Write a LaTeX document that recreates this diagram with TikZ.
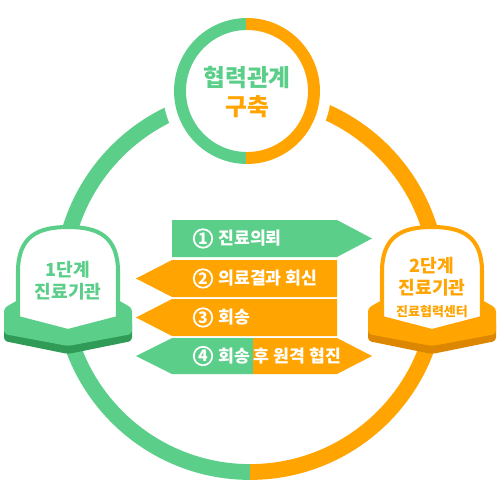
\documentclass[tikz,border=0pt]{standalone}
\usepackage{fontspec}
\setmainfont{Noto Sans CJK KR}
\usepackage{tikz}
\usetikzlibrary{positioning}
\definecolor{mGreen}{HTML}{5BCF89}
\definecolor{mGreenDk}{HTML}{2F9B57}
\definecolor{mOrange}{HTML}{FFA400}
\definecolor{mOrangeDk}{HTML}{DD8700}
\tikzset{
  bigring/.style={line width=9pt},
  topring/.style={line width=6.8pt},
  bandtext/.style={text=white, font=\bfseries\fontsize{9.8}{10}\selectfont, anchor=west, inner sep=0pt},
  numcirc/.style={circle, draw=white, line width=1pt, minimum size=0.37cm,
    inner sep=0pt, text=white, font=\bfseries\fontsize{9}{9}\selectfont},
  belltext/.style={font=\bfseries\fontsize{10.3}{12.5}\selectfont, align=center, inner sep=0pt},
}
% bell: x centre, colour, dark colour
\newcommand{\bellshape}[3]{%
  \begin{scope}[shift={(#1,0)}]
    \fill[#3, rounded corners=2pt] (-64,320) -- (-64,341) -- (0,354) -- (64,341) -- (64,320) -- cycle;
    \fill[#2, rounded corners=2pt] (-64,308) -- (-50,300) -- (50,300) -- (64,308)
      -- (64,334) -- (0,346) -- (-64,334) -- cycle;
    \draw[#2, line width=2.3pt, fill=white] (-50,318) -- (-50,272)
      .. controls (-50,236) and (-30,227) .. (0,227)
      .. controls (30,227) and (50,236) .. (50,272) -- (50,318) -- (0,331) -- cycle;
  \end{scope}
}
\begin{document}
\begin{tikzpicture}[x=0.02cm, y=-0.02cm]
  \useasboundingbox (0,0) rectangle (500,500);
  % big ring
  \begin{scope}
    \clip (0,0) rectangle (250,500);
    \draw[bigring, mGreen] (250,284) circle (188);
  \end{scope}
  \begin{scope}
    \clip (250,0) rectangle (500,500);
    \draw[bigring, mOrange] (250,284) circle (188);
  \end{scope}
  % top circle
  \fill[white] (247,91) circle (84);
  \begin{scope}
    \clip (0,0) rectangle (246,200);
    \draw[topring, mGreen] (247,91) circle (67);
  \end{scope}
  \begin{scope}
    \clip (246,0) rectangle (500,200);
    \draw[topring, mOrange] (247,91) circle (67);
  \end{scope}
  \node[text=mGreen, font=\bfseries\fontsize{13.5}{14}\selectfont] (coop) at (247,78) {협력관계};
  \node[text=mOrange, font=\bfseries\fontsize{13.5}{14}\selectfont] (build) at (247,107) {구축};
  % bells
  \bellshape{68}{mGreen}{mGreenDk}
  \bellshape{432}{mOrange}{mOrangeDk}
  \node[belltext, text=mGreen] (first) at (68,281) {1단계\\진료기관};
  \node[belltext, text=mOrange] (second) at (432,277) {2단계\\진료기관};
  \node[text=mOrange, font=\bfseries\fontsize{7.4}{8}\selectfont] (center) at (432,312) {진료협력센터};
  % bands
  \fill[mGreen] (172,220) -- (337,220) -- (372,238.5) -- (337,257) -- (172,257) -- cycle;
  \foreach \y in {260,299} {
    \fill[mOrange] (337,\y) -- (172,\y) -- (136,\y+18.5) -- (172,\y+37) -- (337,\y+37) -- cycle;
  }
  \fill[mGreen] (253,338) -- (172,338) -- (136,356) -- (172,374) -- (253,374) -- cycle;
  \fill[mOrange] (253,338) -- (337,338) -- (372,356) -- (337,374) -- (253,374) -- cycle;
  \foreach \n/\y/\t in {1/238.5/진료의뢰, 2/278.5/의료결과 회신, 3/317.5/회송, 4/356/회송 후 원격 협진} {
    \node[numcirc] (num\n) at (203,\y) {\n};
    \node[bandtext] (step\n) at (218,\y) {\t};
  }
\end{tikzpicture}
\end{document}
